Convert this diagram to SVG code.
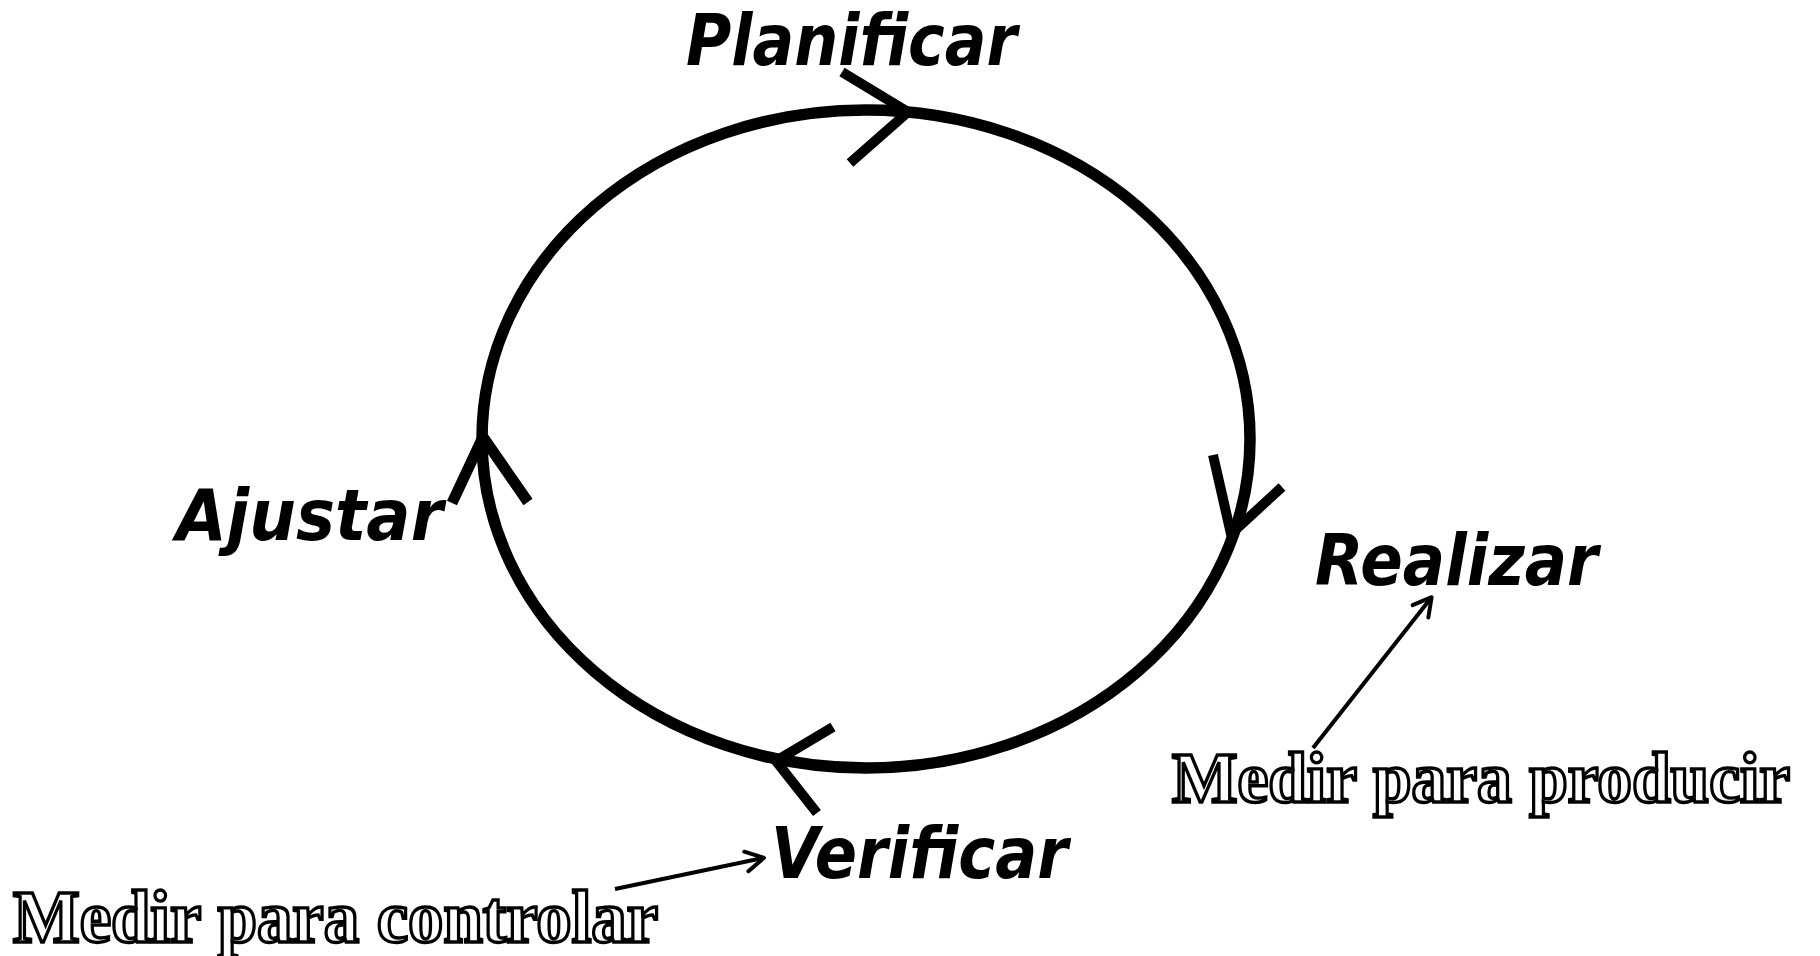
<svg xmlns="http://www.w3.org/2000/svg" width="1820" height="956" viewBox="0 0 1820 956">
  <style>
    .stage { font-family: "DejaVu Sans", Verdana, sans-serif; font-weight: bold; font-style: italic; font-size: 71px; fill: #000; }
    .measure { font-family: "Liberation Serif", "Times New Roman", serif; font-weight: bold; font-size: 74px; fill: #fff; stroke: #000; stroke-width: 3.4px; paint-order: normal; }
    .cycle { fill: none; stroke: #000; stroke-width: 11.5; }
    .head { fill: none; stroke: #000; stroke-width: 10; stroke-linecap: butt; stroke-linejoin: miter; }
    .pointer { fill: none; stroke: #000; stroke-width: 4; marker-end: url(#vhead); }
  </style>
  <defs>
    <marker id="vhead" viewBox="0 0 20 20" refX="19" refY="10" markerWidth="20" markerHeight="20" markerUnits="userSpaceOnUse" orient="auto" overflow="visible">
      <path d="M2,0 L20,10 L2,20" fill="none" stroke="#000" stroke-width="4" stroke-linejoin="round" stroke-linecap="round"/>
    </marker>
  </defs>
  <rect x="0" y="0" width="1820" height="956" fill="#fff"/>

  <g id="connectors">
    <ellipse class="cycle" cx="866" cy="439" rx="384" ry="329"/>
    <polyline class="head" points="842,72 908,112 850,163"/>
    <polyline class="head" points="1213,455 1231,534 1282,487"/>
    <polyline class="head" points="817,813 776,761 833,727"/>
    <polyline class="head" points="452,503 483,437 528,502" style="stroke-width:11"/>
    <line class="pointer" x1="615" y1="889" x2="763" y2="858"/>
    <line class="pointer" x1="1313" y1="748" x2="1431" y2="598"/>
  </g>

  <g id="planificar">
    <text class="stage" x="686" y="65" textLength="331" lengthAdjust="spacingAndGlyphs">Planificar</text>
  </g>
  <g id="realizar">
    <text class="stage" x="1315" y="585" textLength="283" lengthAdjust="spacingAndGlyphs">Realizar</text>
  </g>
  <g id="verificar">
    <text class="stage" x="771" y="878" textLength="297" lengthAdjust="spacingAndGlyphs">Verificar</text>
  </g>
  <g id="ajustar">
    <text class="stage" x="176" y="540" textLength="267" lengthAdjust="spacingAndGlyphs">Ajustar</text>
  </g>
  <g id="medir-producir">
    <text class="measure" x="1172" y="802" style="font-size:72px" textLength="618" lengthAdjust="spacingAndGlyphs">Medir para producir</text>
  </g>
  <g id="medir-controlar">
    <text class="measure" x="13" y="942" textLength="645" lengthAdjust="spacingAndGlyphs">Medir para controlar</text>
  </g>
</svg>
